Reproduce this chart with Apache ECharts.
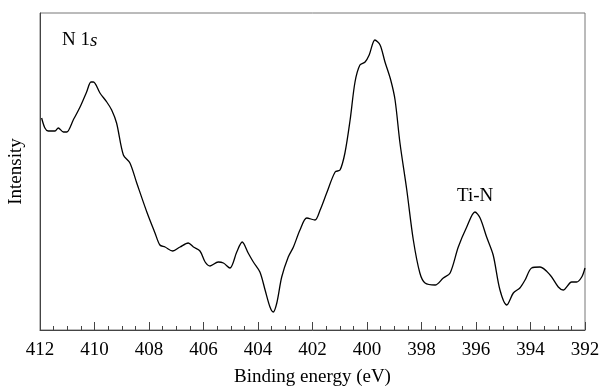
<!DOCTYPE html>
<html>
<head>
<meta charset="UTF-8">
<title>N 1s XPS</title>
<style type="text/css">
  body { margin: 0; background: #fff; }
  #chart { width: 600px; height: 388px; }
</style>
</head>
<body>
<div id="chart"></div>
<script src="https://cdn.jsdelivr.net/npm/echarts@6/dist/echarts.min.js"></script>
<script type="text/javascript">
// binding energy (eV)
var energy = [411.94, 411.82, 411.70, 411.45, 411.33, 411.14, 411.02, 410.78, 410.53, 410.29,
  410.13, 410.04, 409.80, 409.55, 409.37, 409.19, 408.94, 408.70, 408.45, 408.08,
  407.78, 407.60, 407.41, 407.13, 406.86, 406.56, 406.37, 406.13, 405.94, 405.76,
  405.46, 405.27, 405.03, 404.78, 404.58, 404.36, 404.17, 403.93, 403.74, 403.56,
  403.44, 403.31, 403.13, 402.89, 402.70, 402.46, 402.21, 401.91, 401.72, 401.48,
  401.17, 400.99, 400.81, 400.62, 400.44, 400.26, 400.07, 399.92, 399.71, 399.52,
  399.34, 399.13, 398.97, 398.79, 398.54, 398.30, 398.06, 397.87, 397.50, 397.20,
  396.95, 396.65, 396.34, 396.04, 395.85, 395.61, 395.37, 395.12, 394.87, 394.63,
  394.39, 394.20, 393.96, 393.65, 393.28, 392.98, 392.80, 392.49, 392.31, 392.12, 392.00];
// intensity (arb. units)
var intensity = [212, 202, 199, 199, 202, 198, 198, 210, 223, 238,
  248, 248, 237, 228, 220, 207, 175, 167, 147, 118,
  97, 85, 83, 79, 83, 87, 83, 79, 68, 64,
  68, 67, 62, 78, 88, 77, 68, 58, 40, 23,
  18, 27, 53, 73, 83, 100, 112, 110, 120, 137,
  158, 160, 177, 210, 248, 265, 268, 275, 290, 285,
  268, 250, 230, 187, 140, 90, 57, 47, 45, 52,
  57, 83, 103, 118, 112, 93, 75, 40, 25, 37,
  42, 50, 62, 63, 55, 43, 40, 48, 48, 53, 62];
var xTicks = [392, 412, 2];
var annotations = [['N 1', 's'], ['Ti-N', '']];

var serif = 'Liberation Serif';
var points = [];
for (var i = 0; i < energy.length; i++) {
    points.push([energy[i], intensity[i]]);
}

var myChart = echarts.init(document.getElementById('chart'));
var option = {
    animation: false,
    backgroundColor: '#fff',
    grid: {
        left: 40, right: 15, top: 13, bottom: 58,
        outerBoundsMode: 'none',
        show: true, borderColor: '#777', borderWidth: 1
    },
    xAxis: {
        type: 'value',
        inverse: true,
        min: xTicks[0], max: xTicks[1], interval: xTicks[2],
        name: 'Binding energy (eV)',
        nameLocation: 'middle',
        nameGap: 38,
        nameTextStyle: { fontFamily: serif, fontSize: 19, color: '#000' },
        axisLine: { lineStyle: { color: '#444', width: 1 } },
        axisTick: { inside: true, length: 8, lineStyle: { color: '#444' } },
        minorTick: { show: true, splitNumber: 4, length: 4, lineStyle: { color: '#444' } },
        axisLabel: { fontFamily: serif, fontSize: 19, color: '#000', margin: 11 },
        splitLine: { show: false }
    },
    yAxis: {
        type: 'value',
        min: 0, max: 317,
        name: 'Intensity',
        nameLocation: 'middle',
        nameGap: 14,
        nameRotate: 90,
        nameTextStyle: { fontFamily: serif, fontSize: 19, color: '#000' },
        axisLine: { show: true, lineStyle: { color: '#444', width: 1 } },
        axisTick: { show: false },
        axisLabel: { show: false },
        splitLine: { show: false }
    },
    graphic: [
        {
            type: 'text', left: 62, top: 31,
            style: {
                rich: {
                    n: { fontFamily: serif, fontSize: 19, fill: '#000' },
                    i: { fontFamily: serif, fontSize: 19, fontStyle: 'italic', fill: '#000' }
                },
                text: '{n|' + annotations[0][0] + '}{i|' + annotations[0][1] + '}'
            }
        },
        {
            type: 'text', left: 457, top: 187,
            style: { text: annotations[1][0], fontFamily: serif, fontSize: 19, fill: '#000' }
        }
    ],
    series: [
        {
            type: 'line',
            data: points,
            smooth: 0.3,
            showSymbol: false,
            lineStyle: { color: '#000', width: 1.3 }
        }
    ]
};
myChart.setOption(option);
</script>
</body>
</html>
